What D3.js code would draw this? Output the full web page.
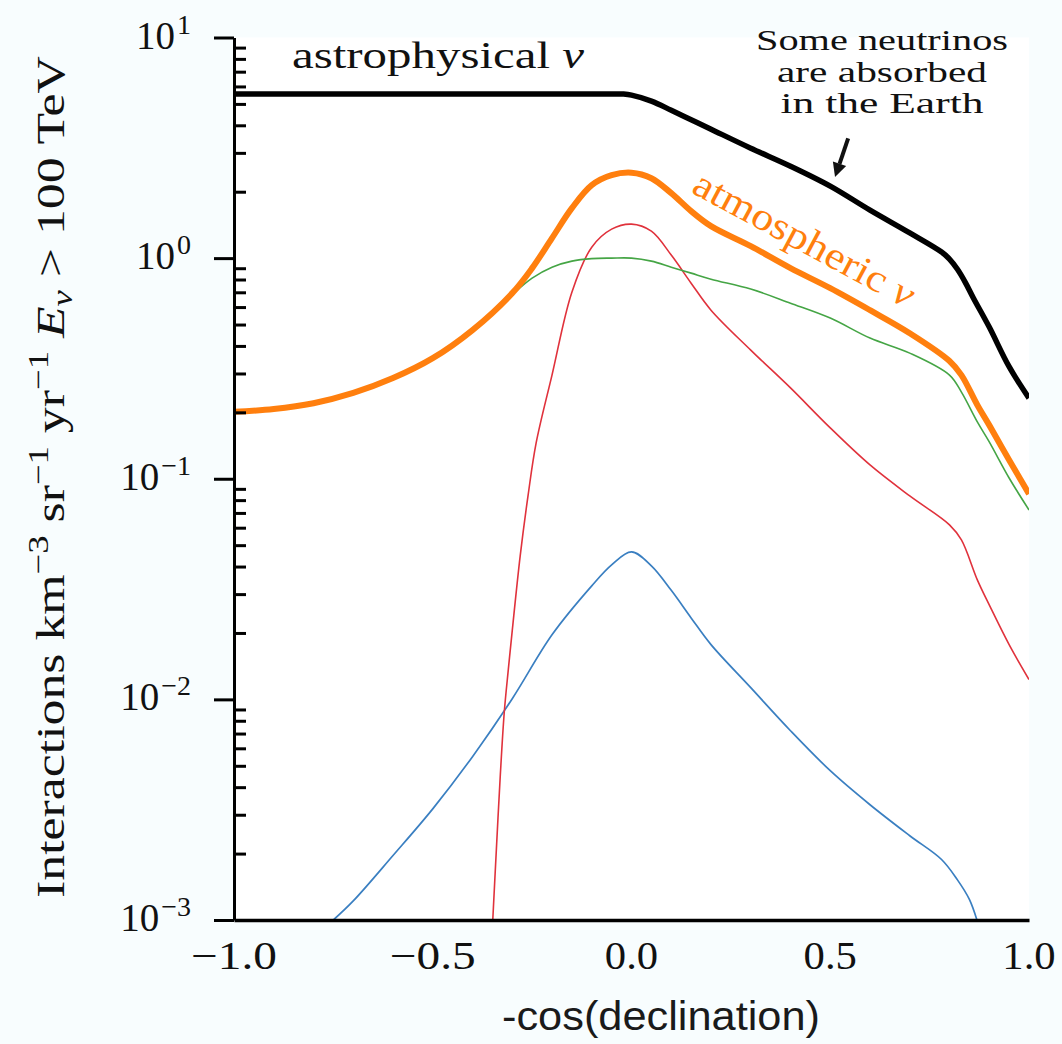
<!DOCTYPE html>
<html>
<head>
<meta charset="utf-8">
<script src="https://cdn.jsdelivr.net/npm/d3@7"></script>
<style>
  body { margin: 0; background: #f8fdfe; }
  svg { display: block; }
</style>
</head>
<body>
<div id="chart"></div>
<script>
// ---- data ----
const astroX = [-1.0, -0.8, -0.6, -0.4, -0.2, -0.06, -0.02, 0.0, 0.05, 0.1, 0.15, 0.2, 0.3, 0.4, 0.5, 0.6, 0.7, 0.78, 0.8, 0.82, 0.84, 0.86, 0.9, 0.95, 1.0];
const astroY = [5.55, 5.55, 5.55, 5.55, 5.55, 5.55, 5.54, 5.48, 5.15, 4.68, 4.24, 3.84, 3.15, 2.61, 2.12, 1.65, 1.30, 1.065, 0.99, 0.89, 0.775, 0.66, 0.487, 0.322, 0.232];

const atmoX = [-1.0, -0.9, -0.8, -0.7, -0.6, -0.5, -0.4, -0.3, -0.25, -0.2, -0.15, -0.1, -0.05, 0.0, 0.05, 0.1, 0.15, 0.2, 0.3, 0.4, 0.5, 0.6, 0.7, 0.8, 0.83, 0.87, 0.9, 0.95, 1.0];
const atmoY = [0.201, 0.207, 0.220, 0.245, 0.286, 0.352, 0.472, 0.694, 0.901, 1.232, 1.684, 2.141, 2.376, 2.439, 2.303, 1.970, 1.633, 1.396, 1.133, 0.901, 0.731, 0.581, 0.457, 0.342, 0.295, 0.216, 0.175, 0.1217, 0.0853];

const greenX = [-1.0, -0.9, -0.8, -0.7, -0.6, -0.5, -0.4, -0.3, -0.25, -0.2, -0.15, -0.1, -0.05, 0.0, 0.05, 0.1, 0.15, 0.2, 0.3, 0.4, 0.5, 0.6, 0.7, 0.8, 0.83, 0.87, 0.9, 0.95, 1.0];
const greenY = [0.200, 0.206, 0.219, 0.244, 0.284, 0.349, 0.467, 0.684, 0.812, 0.910, 0.969, 0.995, 1.0, 1.0, 0.969, 0.910, 0.855, 0.803, 0.724, 0.625, 0.535, 0.434, 0.371, 0.295, 0.247, 0.181, 0.147, 0.1008, 0.0722];

const redX = [-0.349, -0.34, -0.33, -0.32, -0.31, -0.3, -0.28, -0.26, -0.24, -0.2, -0.15, -0.1, -0.05, 0.0, 0.05, 0.1, 0.15, 0.2, 0.3, 0.4, 0.5, 0.6, 0.7, 0.8, 0.83, 0.87, 0.9, 0.95, 1.0];
const redY = [0.001, 0.00208, 0.00455, 0.00879, 0.0136, 0.0205, 0.0447, 0.0845, 0.145, 0.295, 0.701, 1.121, 1.353, 1.426, 1.325, 1.032, 0.770, 0.581, 0.383, 0.258, 0.170, 0.1155, 0.0836, 0.0618, 0.0528, 0.0348, 0.0268, 0.0177, 0.0123];

const blueX = [-0.75, -0.7, -0.6, -0.5, -0.4, -0.3, -0.2, -0.1, -0.05, 0.0, 0.05, 0.1, 0.15, 0.2, 0.3, 0.4, 0.5, 0.6, 0.7, 0.78, 0.82, 0.85, 0.869];
const blueY = [0.001, 0.00122, 0.00196, 0.00319, 0.0055, 0.01007, 0.01962, 0.0327, 0.0407, 0.0466, 0.0403, 0.0312, 0.0234, 0.0177, 0.0113, 0.00721, 0.00475, 0.00333, 0.00241, 0.00188, 0.00152, 0.00124, 0.001];

const xTicks = [-1.0, -0.5, 0.0, 0.5, 1.0];
const yMajor = [1e-3, 1e-2, 1e-1, 1e0, 1e1];
const yExponents = ["−3", "−2", "−1", "0", "1"];

// ---- layout ----
const W = 1062, H = 1044;
const plot = { left: 234, right: 1029, top: 37.5, bottom: 920 };

const svg = d3.select("#chart").append("svg")
    .attr("width", W)
    .attr("height", H);

svg.append("rect")
    .attr("x", plot.left).attr("y", plot.top)
    .attr("width", plot.right - plot.left).attr("height", plot.bottom - plot.top)
    .attr("fill", "#ffffff");

const x = d3.scaleLinear().domain([-1, 1]).range([plot.left, plot.right]);
const y = d3.scaleLog().domain([1e-3, 10]).range([plot.bottom, plot.top]);

svg.append("clipPath").attr("id", "clip")
    .append("rect")
    .attr("x", plot.left).attr("y", plot.top)
    .attr("width", plot.right - plot.left).attr("height", plot.bottom - plot.top);

const line = d3.line()
    .x(d => x(d[0]))
    .y(d => y(d[1]))
    .curve(d3.curveCatmullRom.alpha(0.5));

const curves = [
    { xs: blueX, ys: blueY, color: "#3a7fc1", w: 1.7 },
    { xs: redX, ys: redY, color: "#e0323c", w: 1.6 },
    { xs: greenX, ys: greenY, color: "#45a545", w: 1.6 },
    { xs: atmoX, ys: atmoY, color: "#ff7f0e", w: 6 },
    { xs: astroX, ys: astroY, color: "#000000", w: 5.5 }
];

const lines = svg.append("g").attr("clip-path", "url(#clip)");
curves.forEach(c => {
    lines.append("path")
        .datum(c.xs.map((v, i) => [v, c.ys[i]]))
        .attr("fill", "none")
        .attr("stroke", c.color)
        .attr("stroke-width", c.w)
        .attr("stroke-linejoin", "round")
        .attr("d", line);
});

// ---- axes ----
const yAxis = svg.append("g")
    .attr("transform", `translate(${plot.left},0)`)
    .call(d3.axisLeft(y).tickValues(yMajor).tickSize(20).tickSizeOuter(0).tickFormat(""));
yAxis.select(".domain").attr("stroke-width", 3);
yAxis.selectAll(".tick line").attr("stroke-width", 3);

const yMinor = [];
[1e-3, 1e-2, 1e-1, 1].forEach(dec => {
    for (let k = 2; k <= 9; k++) yMinor.push(dec * k);
});
const yMinorAxis = svg.append("g")
    .attr("transform", `translate(${plot.left},0)`)
    .call(d3.axisRight(y).tickValues(yMinor).tickSize(12).tickFormat(""));
yMinorAxis.select(".domain").remove();
yMinorAxis.selectAll(".tick line").attr("stroke-width", 3);

const xAxis = svg.append("g")
    .attr("transform", `translate(0,${plot.bottom})`)
    .call(d3.axisBottom(x).tickValues(xTicks).tickSize(0).tickSizeOuter(0).tickFormat(""));
xAxis.select(".domain").attr("stroke-width", 3.5);

// tick labels, serif like the LaTeX original
const serif = "'Liberation Serif', 'DejaVu Serif', serif";
const cmW = { "0": 0.5, "1": 0.5, "5": 0.5, ".": 0.278, "−": 0.778 };
const tickFont = 39;

svg.append("g").selectAll("text")
    .data(xTicks)
    .join("text")
    .attr("x", d => x(d))
    .attr("y", 969)
    .attr("text-anchor", "middle")
    .attr("font-family", serif)
    .attr("font-size", tickFont)
    .attr("fill", "#111")
    .each(function (d) {
        const s = (d < 0 ? "−" : "") + Math.abs(d).toFixed(1);
        const len = s.split("").reduce((a, ch) => a + (cmW[ch] || 0.5), 0) * tickFont * 1.07;
        d3.select(this).text(s).attr("textLength", len).attr("lengthAdjust", "spacingAndGlyphs");
    });

const yLabels = svg.append("g").selectAll("text")
    .data(yMajor)
    .join("text")
    .attr("x", 191)
    .attr("y", d => y(d) + 11)
    .attr("text-anchor", "end")
    .attr("font-family", serif)
    .attr("font-size", tickFont)
    .attr("fill", "#111");
yLabels.append("tspan").text("10");
yLabels.append("tspan")
    .attr("dy", -15)
    .attr("dx", 2)
    .attr("font-size", 28)
    .text((d, i) => yExponents[i]);

// ---- axis titles ----
const yTitle = svg.append("text")
    .attr("transform", "translate(64,477) rotate(-90)")
    .attr("text-anchor", "middle")
    .attr("font-family", serif)
    .attr("font-size", 41)
    .attr("fill", "#111")
    .attr("textLength", 842)
    .attr("lengthAdjust", "spacingAndGlyphs");
const titleParts = [
    { t: "Interactions km" },
    { t: "−3", sup: true },
    { t: " sr" },
    { t: "−1", sup: true },
    { t: " yr" },
    { t: "−1", sup: true },
    { t: "  " },
    { t: "E", it: true },
    { t: "ν", sub: true, it: true },
    { t: " > 100 TeV" }
];
let shift = 0;
titleParts.forEach(p => {
    const target = p.sup ? -16 : p.sub ? 8 : 0;
    const ts = yTitle.append("tspan")
        .attr("dy", target - shift)
        .text(p.t);
    shift = target;
    if (p.sup || p.sub) ts.attr("font-size", 29);
    if (p.it) ts.attr("font-style", "italic");
});

svg.append("text")
    .attr("x", 661)
    .attr("y", 1030)
    .attr("text-anchor", "middle")
    .attr("font-family", "'Liberation Sans', Arial, sans-serif")
    .attr("font-size", 40)
    .attr("fill", "#1a1a1a")
    .attr("textLength", 318)
    .attr("lengthAdjust", "spacingAndGlyphs")
    .text("-cos(declination)");

// ---- annotations ----
const astroLabel = svg.append("text")
    .attr("x", 292)
    .attr("y", 68)
    .attr("font-family", serif)
    .attr("font-size", 38)
    .attr("fill", "#111")
    .attr("textLength", 292)
    .attr("lengthAdjust", "spacingAndGlyphs");
astroLabel.append("tspan").text("astrophysical ");
astroLabel.append("tspan").attr("font-style", "italic").text("ν");

const atmoLabel = svg.append("text")
    .attr("transform", "translate(690,192) rotate(28.3)")
    .attr("font-family", serif)
    .attr("font-size", 39)
    .attr("fill", "#ff7f0e")
    .attr("textLength", 246)
    .attr("lengthAdjust", "spacingAndGlyphs");
atmoLabel.append("tspan").text("atmospheric ");
atmoLabel.append("tspan").attr("font-style", "italic").text("ν");

const noteLines = ["Some neutrinos", "are absorbed", "in the Earth"];
const noteLens = [252, 210, 203];
svg.append("g").selectAll("text")
    .data(noteLines)
    .join("text")
    .attr("x", 882)
    .attr("y", (d, i) => 50 + i * 31.7)
    .attr("text-anchor", "middle")
    .attr("font-family", serif)
    .attr("font-size", 29)
    .attr("fill", "#111")
    .attr("textLength", (d, i) => noteLens[i])
    .attr("lengthAdjust", "spacingAndGlyphs")
    .text(d => d);

// arrow pointing at the black curve
const tail = [x(0.545), y(3.49)], tip = [x(0.512), y(2.33)];
const ang = Math.atan2(tip[1] - tail[1], tip[0] - tail[0]);
const headLen = 14, headW = 7;
const base = [tip[0] - headLen * Math.cos(ang), tip[1] - headLen * Math.sin(ang)];
svg.append("line")
    .attr("x1", tail[0]).attr("y1", tail[1])
    .attr("x2", base[0]).attr("y2", base[1])
    .attr("stroke", "#111")
    .attr("stroke-width", 4);
svg.append("path")
    .attr("d", `M${tip[0]},${tip[1]}L${base[0] + headW * Math.sin(ang)},${base[1] - headW * Math.cos(ang)}L${base[0] - headW * Math.sin(ang)},${base[1] + headW * Math.cos(ang)}Z`)
    .attr("fill", "#111");
</script>
</body>
</html>
